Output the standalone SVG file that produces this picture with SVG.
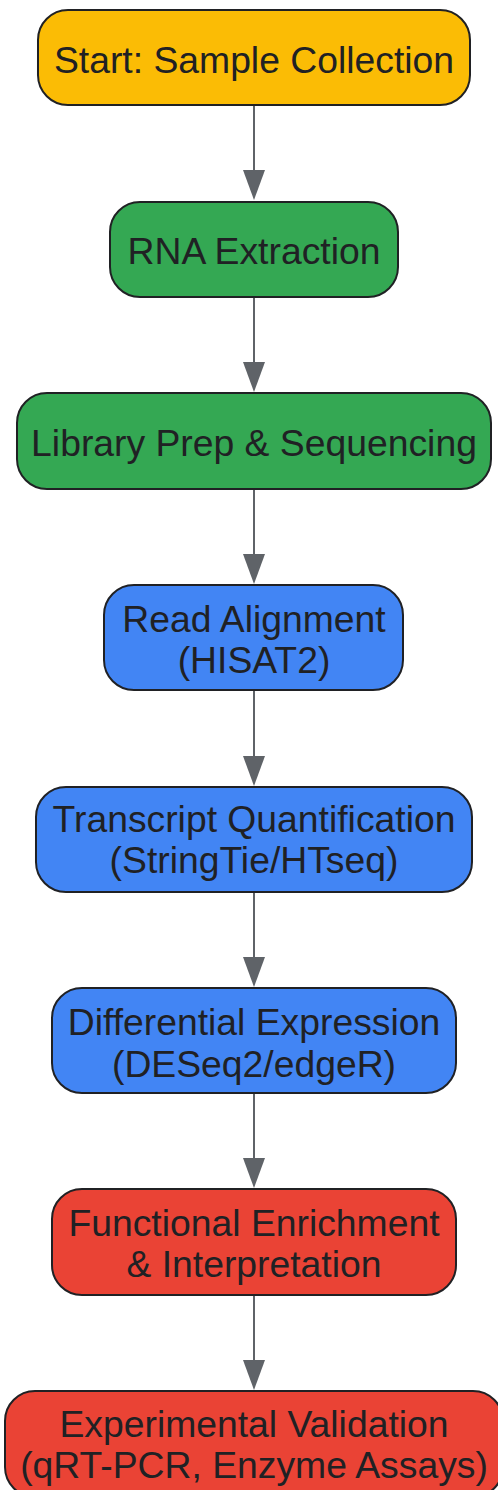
<svg xmlns="http://www.w3.org/2000/svg" width="498" height="1490" viewBox="0 0 498 1490">
<defs>
<style>
.n{stroke:#202124;stroke-width:2}
.y{fill:#FBBC05}.g{fill:#34A853}.b{fill:#4285F4}.r{fill:#EA4335}
.t{font-family:"Liberation Sans",Arial,sans-serif;font-size:37.3px;fill:#202124;text-anchor:middle}
.e{stroke:#5f6368;stroke-width:2;fill:none}
.h{fill:#5f6368}
</style>
</defs>
<rect width="498" height="1490" fill="#ffffff"/>
<g id="connectors">
<line class="e" x1="254" y1="105" x2="254" y2="172"/><polygon class="h" points="243,170 265,170 254,200"/>
<line class="e" x1="254" y1="297" x2="254" y2="364"/><polygon class="h" points="243,362 265,362 254,392"/>
<line class="e" x1="254" y1="489" x2="254" y2="556"/><polygon class="h" points="243,554 265,554 254,584"/>
<line class="e" x1="254" y1="690" x2="254" y2="758"/><polygon class="h" points="243,756 265,756 254,786"/>
<line class="e" x1="254" y1="892" x2="254" y2="959"/><polygon class="h" points="243,957 265,957 254,987"/>
<line class="e" x1="254" y1="1093" x2="254" y2="1160"/><polygon class="h" points="243,1158 265,1158 254,1188"/>
<line class="e" x1="254" y1="1295" x2="254" y2="1362"/><polygon class="h" points="243,1360 265,1360 254,1390"/>
</g>
<g id="n1"><rect class="n y" x="38" y="10" width="432" height="95" rx="30"/><text class="t" x="254" y="72.5">Start: Sample Collection</text></g>
<g id="n2"><rect class="n g" x="110" y="202" width="288" height="95" rx="30"/><text class="t" x="254" y="264">RNA Extraction</text></g>
<g id="n3"><rect class="n g" x="17" y="393" width="474" height="96" rx="30"/><text class="t" x="254" y="456">Library Prep &amp; Sequencing</text></g>
<g id="n4"><rect class="n b" x="104" y="585" width="299" height="105" rx="30"/><text class="t" x="254" y="632">Read Alignment</text><text class="t" x="254" y="673">(HISAT2)</text></g>
<g id="n5"><rect class="n b" x="36" y="787" width="436" height="105" rx="30"/><text class="t" x="254" y="832">Transcript Quantification</text><text class="t" x="254" y="873">(StringTie/HTseq)</text></g>
<g id="n6"><rect class="n b" x="52" y="988" width="404" height="105" rx="30"/><text class="t" x="254" y="1035">Differential Expression</text><text class="t" x="254" y="1077">(DESeq2/edgeR)</text></g>
<g id="n7"><rect class="n r" x="52" y="1189" width="404" height="106" rx="30"/><text class="t" x="254" y="1236">Functional Enrichment</text><text class="t" x="254" y="1277">&amp; Interpretation</text></g>
<g id="n8"><rect class="n r" x="5" y="1391" width="498" height="106" rx="30"/><text class="t" x="254" y="1437">Experimental Validation</text><text class="t" x="254" y="1478">(qRT-PCR, Enzyme Assays)</text></g>
</svg>
